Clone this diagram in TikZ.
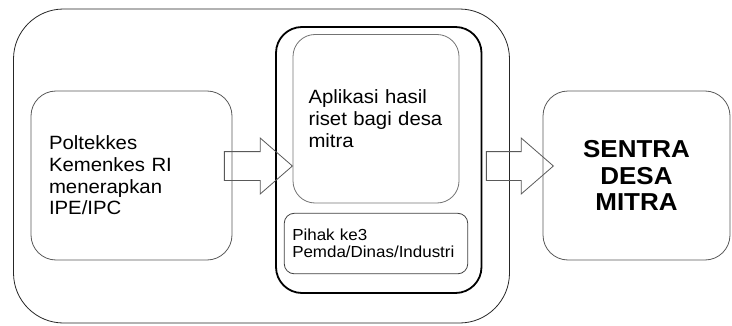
\documentclass[tikz,border=0pt]{standalone}
\usepackage{fontspec}
\setmainfont{Liberation Sans}[FakeStretch=1.06]
\usetikzlibrary{positioning, shapes.arrows}

\begin{document}
\begin{tikzpicture}[
    x=1pt, y=1pt,
    kotak/.style={
        rectangle,
        rounded corners=#1,
        draw=black!65,
        line width=0.8pt,
        inner sep=0pt
    },
    isi/.style={
        font=\fontsize{19.2}{21.7}\selectfont,
        align=left
    },
    panah/.style={
        single arrow,
        draw=black!65,
        line width=0.8pt,
        inner xsep=0pt,
        inner ysep=14pt,
        single arrow head extend=13.5pt,
        single arrow tip angle=82
    }
]
\useasboundingbox (0,0) rectangle (732,325);

% --- Bingkai luar dan tengah ---
\node[kotak=50pt, draw=black!85, minimum width=496pt, minimum height=314pt] (luar) at (261.5,159) {};
\node[kotak=26pt, draw=black, line width=1.8pt, minimum width=205.5pt, minimum height=266pt] (tengah) at (378.75,165) {};

% --- Kotak isi ---
\node[kotak=25pt, isi, minimum width=201pt, minimum height=169pt, text width=165pt, inner xsep=18pt] (poltekkes) at (131.5,149.5)
{Poltekkes\\Kemenkes RI\\menerapkan\\IPE/IPC};
\node[kotak=22pt, isi, draw=black!55, minimum width=166pt, minimum height=168.5pt, text width=135pt, inner xsep=15.5pt] (aplikasi) at (376,206.25)
{Aplikasi hasil\\riset bagi desa\\mitra};
\node[kotak=10pt, draw=black!75, font=\fontsize{16}{17.3}\selectfont, align=left, minimum width=183.5pt, minimum height=60.5pt, text width=167.5pt, inner xsep=8pt, below=9.5pt of aplikasi] (pihak)
{Pihak ke3\\Pemda/Dinas/Industri};
\node[kotak=25pt, font=\fontsize{24.5}{26.7}\selectfont\bfseries, align=center, minimum width=187pt, minimum height=169pt] (sentra) at (636.5,149.5)
{SENTRA\\DESA\\MITRA};

% --- Panah ---
\node[panah, minimum height=68pt, anchor=tip] (panah1) at (293,159) {};
\node[panah, minimum height=67pt, anchor=tip] (panah2) at (554,159) {};

\end{tikzpicture}
\end{document}
